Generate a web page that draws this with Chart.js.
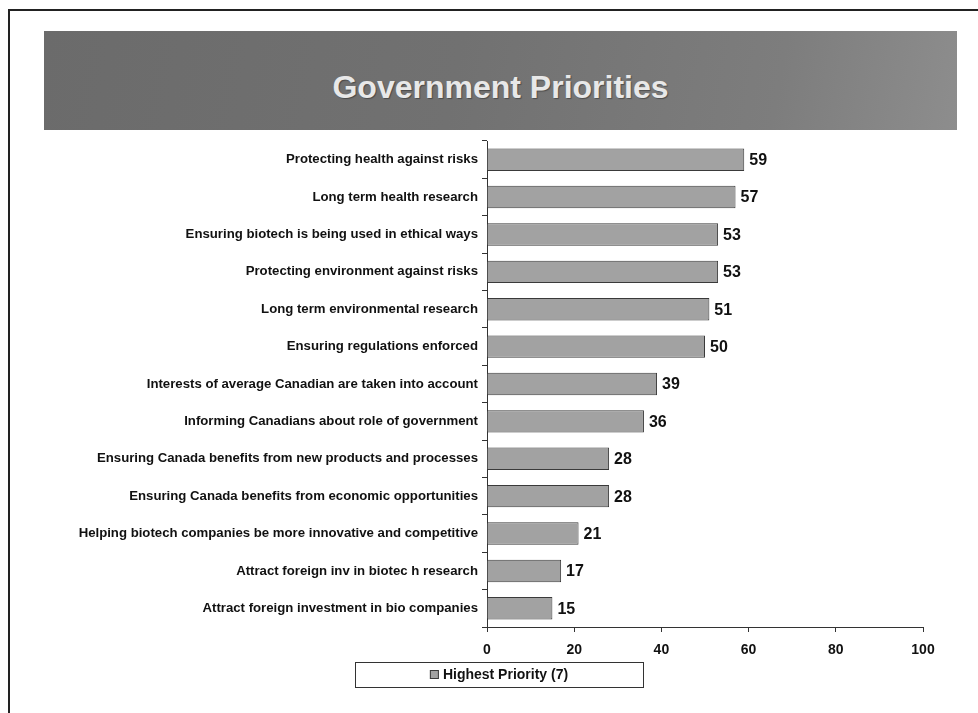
<!DOCTYPE html>
<html>
<head>
<meta charset="utf-8">
<title>Government Priorities</title>
<script src="https://cdn.jsdelivr.net/npm/chart.js@4/dist/chart.umd.min.js"></script>
<style>
    html, body { margin: 0; padding: 0; background: #fff; overflow: hidden; }
    body { width: 978px; height: 713px; position: relative; font-family: "Liberation Sans", Arial, sans-serif; }
    .frame { position: absolute; left: 8px; top: 9px; width: 1000px; height: 800px; border: 2px solid #222; }
    .banner {
        position: absolute; left: 44px; top: 31px; width: 913px; height: 99px; overflow: hidden;
        background: linear-gradient(100deg, #6b6b6b 0%, #717171 45%, #7d7d7d 80%, #8d8d8d 100%);
        color: #e8e8e8; font-weight: bold; font-size: 32px; text-align: center; line-height: 112px;
        text-shadow: 1px 1px 1px rgba(0, 0, 0, 0.35);
    }
    #priorityChart { position: absolute; left: 0; top: 0; }
</style>
</head>
<body>
<div class="frame"></div>
<div class="banner">Government Priorities</div>
<div style="position:absolute;left:0;top:0;width:978px;height:713px;">
    <canvas id="priorityChart" width="978" height="713"></canvas>
</div>
<script>
var categories = [
    "Protecting health against risks",
    "Long term health research",
    "Ensuring biotech is being used in ethical ways",
    "Protecting environment against risks",
    "Long term environmental research",
    "Ensuring regulations enforced",
    "Interests of average Canadian are taken into account",
    "Informing Canadians about role of government",
    "Ensuring Canada benefits from new products and processes",
    "Ensuring Canada benefits from economic opportunities",
    "Helping biotech companies be more innovative and competitive",
    "Attract foreign inv in biotec h research",
    "Attract foreign investment in bio companies"
];
var highestPriority = [59, 57, 53, 53, 51, 50, 39, 36, 28, 28, 21, 17, 15];
var seriesLabel = "Highest Priority (7)";
var xMin = 0;
var xMax = 100;
var xStep = 20;

var FONT = "'Liberation Sans', Arial, sans-serif";
var BAR_FILL = "#a2a2a2";
var BAR_EDGE = "#3a3a3a";

// value printed just right of each bar
var barValueLabels = {
    id: "barValueLabels",
    afterDatasetsDraw: function (chart) {
        var ctx = chart.ctx;
        var meta = chart.getDatasetMeta(0);
        var values = chart.data.datasets[0].data;
        ctx.save();
        ctx.font = "bold 16px " + FONT;
        ctx.fillStyle = "#111";
        ctx.textAlign = "left";
        ctx.textBaseline = "middle";
        meta.data.forEach(function (bar, i) {
            ctx.fillText(values[i], bar.x + 5, bar.y + 1);
        });
        ctx.restore();
    }
};

// boxed legend under the x axis
var boxedLegend = {
    id: "boxedLegend",
    afterDraw: function (chart) {
        var ctx = chart.ctx;
        var ds = chart.data.datasets[0];
        var left = 355, top = 662, w = 288, h = 25;
        ctx.save();
        ctx.fillStyle = "#fff";
        ctx.fillRect(left, top, w, h);
        ctx.strokeStyle = "#333";
        ctx.lineWidth = 1;
        ctx.strokeRect(left + 0.5, top + 0.5, w, h);
        ctx.font = "bold 14px " + FONT;
        var textW = ctx.measureText(ds.label).width;
        var sw = 9, gap = 4;
        var startX = left + (w - (sw + gap + textW)) / 2;
        var midY = top + h / 2;
        ctx.fillStyle = ds.backgroundColor;
        ctx.fillRect(startX, midY - sw / 2, sw, sw);
        ctx.strokeStyle = ds.borderColor;
        ctx.strokeRect(startX + 0.5, midY - sw / 2 + 0.5, sw - 1, sw - 1);
        ctx.fillStyle = "#111";
        ctx.textBaseline = "middle";
        ctx.fillText(ds.label, startX + sw + gap, midY + 1);
        ctx.restore();
    }
};

document.addEventListener("DOMContentLoaded", function () {
    var ctx = document.getElementById("priorityChart");
    new Chart(ctx, {
        type: "bar",
        data: {
            labels: categories,
            datasets: [{
                    label: seriesLabel,
                    data: highestPriority,
                    backgroundColor: BAR_FILL,
                    borderColor: BAR_EDGE,
                    borderWidth: 1,
                    barPercentage: 0.6,
                    categoryPercentage: 1
                }]
        },
        options: {
            indexAxis: "y",
            responsive: false,
            animation: false,
            layout: {
                padding: { top: 141, right: 55, bottom: 0, left: 0 }
            },
            scales: {
                x: {
                    min: xMin,
                    max: xMax,
                    afterFit: function (scale) { scale.height = 86; },
                    border: { color: "#333", width: 1 },
                    grid: { drawOnChartArea: false, tickLength: 5, color: "#333" },
                    ticks: {
                        stepSize: xStep,
                        padding: 10,
                        color: "#111",
                        font: { family: FONT, size: 14, weight: "bold" }
                    }
                },
                y: {
                    afterFit: function (scale) { scale.width = 487; },
                    border: { color: "#333", width: 1 },
                    grid: { drawOnChartArea: false, tickLength: 5, color: "#333" },
                    ticks: {
                        autoSkip: false,
                        padding: 4,
                        color: "#111",
                        font: { family: FONT, size: 13.2, weight: "bold" }
                    }
                }
            },
            plugins: {
                legend: { display: false },
                tooltip: { enabled: false }
            }
        },
        plugins: [barValueLabels, boxedLegend]
    });
});
</script>
</body>
</html>
